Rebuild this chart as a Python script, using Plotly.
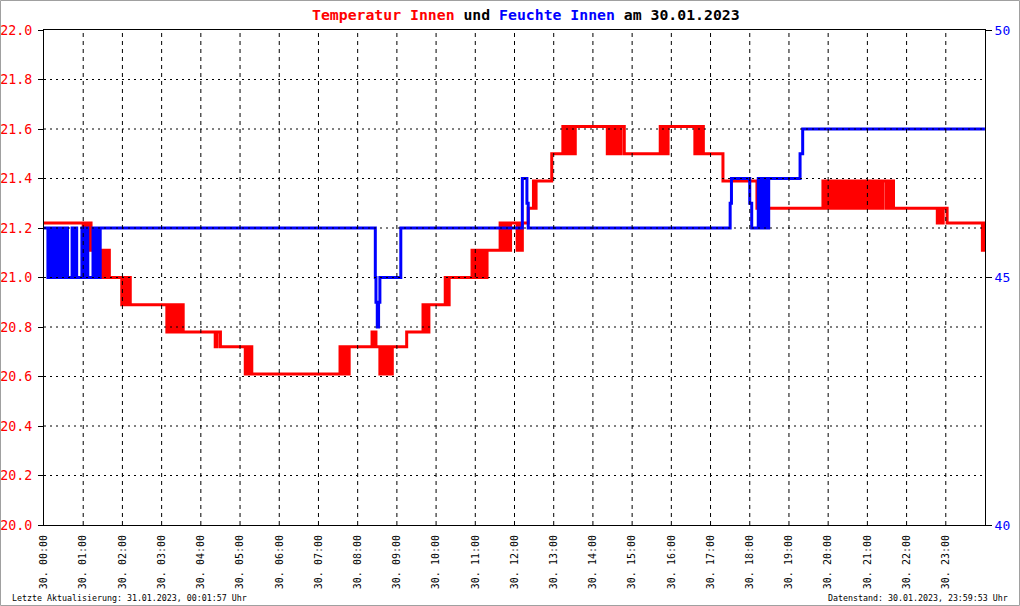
import plotly.graph_objects as go

DAY = "2023-01-30"

# Temperatur Innen (left axis, degC) - change points of the step curve
temp_times = [
    "00:00",
    "01:00", "01:03", "01:06", "01:09", "01:12",
    "01:27", "01:30", "01:33", "01:36", "01:40",
    "01:59", "02:02", "02:05", "02:08", "02:12",
    "03:08", "03:11", "03:14", "03:17", "03:20", "03:23", "03:26", "03:29", "03:33",
    "04:22", "04:25", "04:30",
    "05:08", "05:11", "05:14", "05:16", "05:18",
    "07:33", "07:36", "07:40", "07:43", "07:47",
    "08:22", "08:25", "08:26", "08:28",
    "08:34", "08:37", "08:38", "08:41", "08:43", "08:46", "08:49", "08:53",
    "09:15",
    "09:40", "09:43", "09:46", "09:47", "09:49",
    "10:14", "10:16", "10:20",
    "10:55", "10:57", "10:59", "11:02", "11:05", "11:08", "11:11", "11:14", "11:18",
    "11:38", "11:41", "11:44", "11:47", "11:49", "11:52", "11:54",
    "12:04", "12:06", "12:08", "12:12",
    "12:21", "12:29", "12:31", "12:33",
    "12:57",
    "13:14", "13:17", "13:20", "13:23", "13:26", "13:29", "13:33",
    "14:22", "14:25", "14:28", "14:31", "14:34", "14:37", "14:40", "14:43", "14:48",
    "15:43", "15:46", "15:49", "15:52", "15:55",
    "16:36", "16:39", "16:42", "16:45", "16:49",
    "17:19",
    "18:11", "18:13", "18:16", "18:18", "18:20",
    "19:52", "19:54", "19:56", "19:57",
    "20:00", "20:03", "20:06", "20:09", "20:12", "20:15", "20:18", "20:21", "20:24", "20:27",
    "20:30", "20:33", "20:36", "20:39", "20:42", "20:45", "20:48", "20:51", "20:54", "20:57",
    "21:00", "21:03", "21:06", "21:09", "21:12", "21:15", "21:18", "21:21", "21:24", "21:29",
    "21:32", "21:35", "21:37", "21:40",
    "22:47", "22:50", "22:53", "22:56", "23:02",
    "23:56", "23:58", "23:59", "23:59:53",
]
temp_values = [
    21.22,
    21.11, 21.22, 21.11, 21.22, 21.11,
    21.00, 21.11, 21.00, 21.11, 21.00,
    20.89, 21.00, 20.89, 21.00, 20.89,
    20.78, 20.89, 20.78, 20.89, 20.78, 20.89, 20.78, 20.89, 20.78,
    20.72, 20.78, 20.72,
    20.61, 20.72, 20.61, 20.72, 20.61,
    20.72, 20.61, 20.72, 20.61, 20.72,
    20.78, 20.72, 20.78, 20.72,
    20.61, 20.72, 20.61, 20.72, 20.61, 20.72, 20.61, 20.72,
    20.78,
    20.89, 20.78, 20.89, 20.78, 20.89,
    21.00, 20.89, 21.00,
    21.11, 21.00, 21.11, 21.00, 21.11, 21.00, 21.11, 21.00, 21.11,
    21.22, 21.11, 21.22, 21.11, 21.22, 21.11, 21.22,
    21.11, 21.22, 21.11, 21.22,
    21.28, 21.39, 21.28, 21.39,
    21.50,
    21.61, 21.50, 21.61, 21.50, 21.61, 21.50, 21.61,
    21.50, 21.61, 21.50, 21.61, 21.50, 21.61, 21.50, 21.61, 21.50,
    21.61, 21.50, 21.61, 21.50, 21.61,
    21.50, 21.61, 21.50, 21.61, 21.50,
    21.39,
    21.28, 21.39, 21.28, 21.39, 21.28,
    21.39, 21.28, 21.39, 21.28,
    21.39, 21.28, 21.39, 21.28, 21.39, 21.28, 21.39, 21.28, 21.39, 21.28,
    21.39, 21.28, 21.39, 21.28, 21.39, 21.28, 21.39, 21.28, 21.39, 21.28,
    21.39, 21.28, 21.39, 21.28, 21.39, 21.28, 21.39, 21.28, 21.39, 21.28,
    21.39, 21.28, 21.39, 21.28,
    21.22, 21.28, 21.22, 21.28, 21.22,
    21.11, 21.22, 21.11, 21.11,
]

# Feuchte Innen (right axis, %)
hum_times = [
    "00:00",
    "00:06", "00:09", "00:12", "00:15", "00:18", "00:21", "00:24", "00:27", "00:30", "00:33", "00:36",
    "00:43", "00:46", "00:48", "00:50",
    "00:58", "01:01", "01:04", "01:07",
    "01:15", "01:18", "01:21", "01:24", "01:26",
    "08:27", "08:28", "08:30", "08:32", "08:34",
    "09:06",
    "12:12", "12:19", "12:21",
    "17:30", "17:32",
    "18:00", "18:03",
    "18:13", "18:16", "18:19", "18:22", "18:25", "18:27", "18:29",
    "19:17", "19:21",
    "23:59:53",
]
hum_values = [
    46,
    45, 46, 45, 46, 45, 46, 45, 46, 45, 46, 45,
    46, 45, 46, 45,
    46, 45, 46, 45,
    46, 45, 46, 45, 46,
    45, 44.5, 44, 44.5, 45,
    46,
    47, 46.5, 46,
    46.5, 47,
    46.5, 46,
    47, 46, 47, 46, 47, 46, 47,
    47.5, 48,
    48,
]

hour_ticks = ["%02d:00" % h for h in range(24)]
temp_grid = [20.2, 20.4, 20.6, 20.8, 21.0, 21.2, 21.4, 21.6, 21.8]

assert len(temp_times) == len(temp_values)
assert len(hum_times) == len(hum_values)

MONO = "DejaVu Sans Mono"

fig = go.Figure()
fig.add_trace(go.Scatter(
    x=[DAY + " " + t for t in hum_times], y=hum_values, yaxis="y2",
    mode="lines", line=dict(color="#0000ff", width=3, shape="hv"),
    name="Feuchte Innen"))
fig.add_trace(go.Scatter(
    x=[DAY + " " + t for t in temp_times], y=temp_values,
    mode="lines", line=dict(color="#ff0000", width=3, shape="hv"),
    name="Temperatur Innen"))

# grid drawn above the curves, like the original
for t in hour_ticks[1:]:
    fig.add_shape(type="line", xref="x", yref="paper",
                  x0=DAY + " " + t, x1=DAY + " " + t, y0=0, y1=1,
                  line=dict(color="black", width=1, dash="4px,4px"), layer="above")
for v in temp_grid:
    fig.add_shape(type="line", xref="paper", yref="y",
                  x0=0, x1=1, y0=v, y1=v,
                  line=dict(color="black", width=1, dash="2px,4px"), layer="above")

# grey frame around the image
fig.add_shape(type="rect", xref="paper", yref="paper",
              x0=(0.5 - 44) / 941, x1=(1019.5 - 44) / 941,
              y0=(525 - 605.5) / 495, y1=(525 - 0.5) / 495,
              line=dict(color="#a0a0a0", width=1))

title = ("<b><span style='color:#ff0000'>Temperatur Innen</span> und "
         "<span style='color:#0000ff'>Feuchte Innen</span> am 30.01.2023</b>")
fig.add_annotation(text=title, xref="paper", yref="paper",
                   x=(526 - 44) / 941, y=(525 - 14) / 495,
                   xanchor="center", yanchor="middle", showarrow=False,
                   font=dict(family=MONO, size=14.8, color="black"))
fig.add_annotation(text="Letzte Aktualisierung: 31.01.2023, 00:01:57 Uhr",
                   xref="paper", yref="paper",
                   x=(10 - 44) / 941, y=(525 - 598) / 495,
                   xanchor="left", yanchor="middle", showarrow=False,
                   font=dict(family=MONO, size=8.3, color="black"))
fig.add_annotation(text="Datenstand: 30.01.2023, 23:59:53 Uhr",
                   xref="paper", yref="paper",
                   x=(1010 - 44) / 941, y=(525 - 598) / 495,
                   xanchor="right", yanchor="middle", showarrow=False,
                   font=dict(family=MONO, size=8.3, color="black"))

fig.update_layout(
    width=1020, height=606,
    margin=dict(l=44, r=35, t=30, b=81, autoexpand=False),
    paper_bgcolor="white", plot_bgcolor="white",
    showlegend=False,
    xaxis=dict(
        type="date", automargin=False,
        range=[DAY + " 00:00", DAY + " 23:59:59.9"],
        tickvals=[DAY + " " + t for t in hour_ticks],
        ticktext=["30. " + t for t in hour_ticks],
        tickangle=-90, ticks="", ticklabelstandoff=5,
        tickfont=dict(family=MONO, size=10, color="black"),
        showgrid=False, zeroline=False,
        showline=True, linecolor="black", linewidth=1, mirror=True,
    ),
    yaxis=dict(
        range=[20, 22], dtick=0.2, tickformat=".1f", automargin=False,
        tickfont=dict(family=MONO, size=13.3, color="#ff0000"),
        ticks="outside", ticklen=5, tickcolor="black", ticklabelstandoff=3,
        showgrid=False, zeroline=False,
        showline=True, linecolor="black", linewidth=1,
    ),
    yaxis2=dict(
        range=[40, 50], tickvals=[40, 45, 50], automargin=False,
        overlaying="y", side="right",
        tickfont=dict(family=MONO, size=13, color="#0000ff"),
        ticks="outside", ticklen=6, tickcolor="black",
        showgrid=False, zeroline=False,
        showline=True, linecolor="black", linewidth=1,
    ),
)

# the page should start at the very corner, without the default body margin
fig.write_html("out.html", config={"displayModeBar": False},
               post_script="document.body.style.margin='0';"
                           "document.body.style.overflow='hidden';")
